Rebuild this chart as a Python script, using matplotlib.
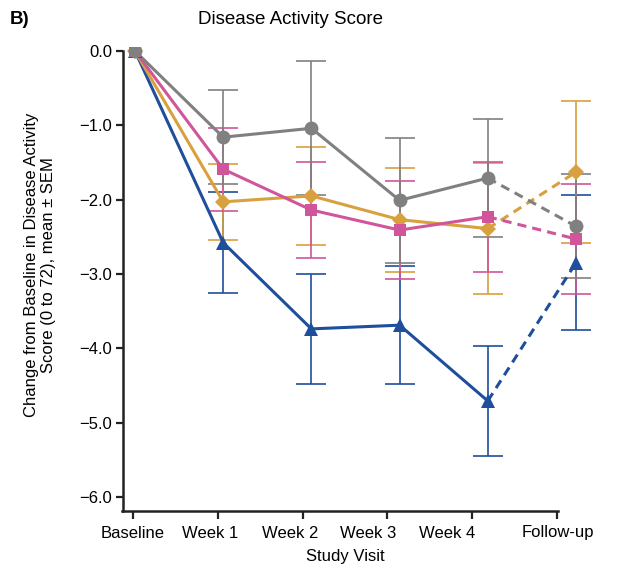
import matplotlib
matplotlib.use("Agg")
import matplotlib.pyplot as plt
import matplotlib.transforms as mtransforms
import numpy as np

plt.rcParams['font.family'] = ['Liberation Sans', 'DejaVu Sans']

visits = ["Baseline", "Week 1", "Week 2", "Week 3", "Week 4", "Follow-up"]
y_ticks = [0.0, -1.0, -2.0, -3.0, -4.0, -5.0, -6.0]
y_tick_labels = ["0.0", "\u22121.0", "\u22122.0", "\u22123.0", "\u22124.0", "\u22125.0", "\u22126.0"]

blue_mean = [0.0, -2.58, -3.74, -3.69, -4.71, -2.85]
blue_sem = [0.0, 0.68, 0.74, 0.79, 0.74, 0.91]
pink_mean = [0.0, -1.59, -2.14, -2.41, -2.23, -2.53]
pink_sem = [0.0, 0.56, 0.64, 0.66, 0.74, 0.74]
gold_mean = [0.0, -2.03, -1.95, -2.27, -2.39, -1.63]
gold_sem = [0.0, 0.51, 0.66, 0.70, 0.88, 0.96]
gray_mean = [0.0, -1.16, -1.04, -2.01, -1.71, -2.36]
gray_sem = [0.0, 0.63, 0.90, 0.84, 0.79, 0.70]

series = [
    (blue_mean, blue_sem, "#1F4F9C", "^", 10),
    (gold_mean, gold_sem, "#D9A03F", "D", 8),
    (pink_mean, pink_sem, "#D0559A", "s", 9),
    (gray_mean, gray_sem, "#808080", "o", 10),
]

W, H = 623, 570
ax_l, ax_r, ax_b, ax_t = 123, 605, 511, 47.3
fig = plt.figure(figsize=(W/100, H/100), dpi=100)
ax = fig.add_axes([ax_l/W, 1 - ax_b/H, (ax_r-ax_l)/W, (ax_b-ax_t)/H])

x = np.arange(len(visits))
for mean, sem, col, mk, ms in series:
    mean = np.array(mean); sem = np.array(sem)
    ax.errorbar(x[1:], mean[1:], yerr=sem[1:], fmt='none', ecolor=col,
                elinewidth=1.2, capsize=11, capthick=1.2, zorder=2)
    ax.plot(x[:5], mean[:5], '-', color=col, lw=2.2, zorder=3)
    ax.plot(x[4:], mean[4:], '--', color=col, lw=2.2, dashes=(3, 2), zorder=3)
    ax.plot(x, mean, linestyle='none', marker=mk, color=col, ms=ms,
            markeredgewidth=0, zorder=4)

unit = 88.2
ax.set_xlim((ax_l-135)/unit, (ax_r-135)/unit)
ax.set_ylim(-(ax_b-51)/74.3, 0.05)

# axis tick marks (no labels) and separately placed labels
tick_px = [133, 217.7, 302.7, 387, 472, 557]
label_px = [133, 210, 290, 368, 447, 558]
ax.set_xticks([(p-135)/unit for p in tick_px])
ax.set_xticklabels([""]*len(tick_px))
ax.tick_params(axis='x', which='major', length=6, width=1.6, color='#222222', direction='out')
trans = mtransforms.blended_transform_factory(ax.transData, ax.transAxes)
for p, lab in zip(label_px, visits):
    ax.text((p-135)/unit, -(533-ax_b)/(ax_b-ax_t), lab, transform=trans,
            ha='center', va='center', fontsize=12, clip_on=False)

ax.set_yticks(y_ticks)
ax.set_yticklabels(y_tick_labels, fontsize=12)
ax.tick_params(axis='y', length=5, width=1.6, color='#222222', pad=3)

for s in ['top', 'right']:
    ax.spines[s].set_visible(False)
for s in ['left', 'bottom']:
    ax.spines[s].set_linewidth(1.8)
    ax.spines[s].set_color('#222222')
ax.spines['left'].set_bounds(-(ax_b-51)/74.3, 0.0)
ax.spines['bottom'].set_bounds((122-135)/unit, (558-135)/unit)

fig.text(345/W, 1 - 557/H, "Study Visit", fontsize=12, ha='center', va='center')
fig.text(40/W, 1 - 265/H, "Change from Baseline in Disease Activity\nScore (0 to 72), mean \u00b1 SEM",
         fontsize=12, rotation=90, ha='center', va='center', linespacing=1.15,
         multialignment='center')

fig.text(290/W, 1 - 20/H, "Disease Activity Score", fontsize=13.5, ha='center', va='center')
fig.text(10/W, 1 - 20/H, "B)", fontsize=13.5, fontweight='bold', ha='left', va='center')

fig.savefig("out.png", dpi=100)
